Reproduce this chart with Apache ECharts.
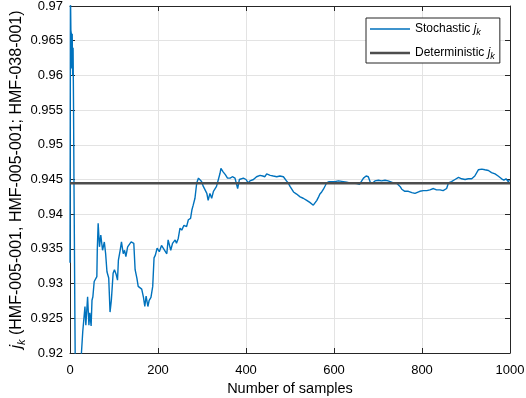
<!DOCTYPE html>
<html>
<head>
<meta charset="utf-8">
<script src="https://cdn.jsdelivr.net/npm/echarts@6/dist/echarts.min.js"></script>
<style>
html,body{margin:0;padding:0;background:#fff;}
#main{width:526px;height:398px;}
</style>
</head>
<body>
<div id="main"></div>
<script>
// ---- data ----
var sampleX = [0,1,2,3,4,5,6,7,8,9,10,11,12,14,18,22,25,26,29,34,36,40,43,45,48,50,52,55,58,61,62,64,67,70,74,78,81,84,88,91,94,98,101,105,108,110,114,117,121,124,127,131,135,139,142,145,148,152,155,159,163,167,170,173,177,180,184,188,191,194,198,203,208,212,220,223,229,233,239,242,246,250,254,259,265,269,274,277,280,284,288,292,295,299,303,307,311,314,318,322,326,330,333,337,341,343,348,353,358,364,369,375,379,381,385,394,400,405,409,417,424,432,438,443,447,455,462,470,477,485,492,496,500,504,508,515,523,530,538,545,553,557,561,565,568,572,576,580,583,589,595,602,610,614,621,629,636,644,652,658,663,667,673,678,682,683,688,693,701,708,716,723,727,735,742,750,754,761,769,777,784,788,795,803,811,818,826,833,841,848,852,856,860,867,875,883,890,898,905,913,920,928,936,943,951,958,966,973,981,986,991,996,999];
var stochasticJk = [0.933,0.972,0.9665,0.966,0.961,0.966,0.960,0.964,0.956,0.945,0.936,0.926,0.918,0.912,0.910,0.912,0.917,0.920,0.9231,0.9267,0.9240,0.9281,0.9240,0.9258,0.9239,0.9276,0.9281,0.9303,0.9305,0.9310,0.9348,0.9387,0.9353,0.9370,0.9348,0.9360,0.9343,0.9317,0.9308,0.9259,0.9276,0.9315,0.9320,0.9313,0.9305,0.9334,0.9348,0.9360,0.9343,0.9348,0.9339,0.9353,0.9355,0.9360,0.9358,0.9358,0.9320,0.9308,0.9296,0.9294,0.9292,0.9280,0.9267,0.9282,0.9267,0.9276,0.9280,0.9296,0.9337,0.9341,0.9351,0.9346,0.9355,0.9353,0.9343,0.9363,0.9348,0.9358,0.9363,0.9358,0.9365,0.9380,0.9377,0.9384,0.9382,0.9392,0.9394,0.9406,0.9413,0.9423,0.9445,0.9452,0.9450,0.9447,0.9440,0.9435,0.9430,0.9420,0.9430,0.9423,0.9433,0.9435,0.9440,0.9442,0.9459,0.9466,0.9461,0.9457,0.9452,0.9452,0.9454,0.9452,0.9450,0.9437,0.9450,0.9452,0.9450,0.9445,0.9448,0.9450,0.9454,0.9456,0.9455,0.9454,0.9458,0.9456,0.9455,0.9454,0.9455,0.9454,0.9448,0.9445,0.9440,0.9439,0.9432,0.9429,0.9425,0.9423,0.9420,0.9417,0.9413,0.9415,0.9420,0.9425,0.9429,0.9432,0.9436,0.9441,0.9445,0.9447,0.9447,0.9447,0.9448,0.9450,0.9447,0.9446,0.9445,0.9445,0.9444,0.9443,0.9448,0.9452,0.9455,0.9454,0.9453,0.9445,0.9445,0.9448,0.9449,0.9448,0.9449,0.9448,0.9447,0.9445,0.9445,0.9440,0.9436,0.9433,0.9433,0.9431,0.9430,0.9429,0.9433,0.9434,0.9434,0.9435,0.9437,0.9435,0.9435,0.9434,0.9433,0.9437,0.9445,0.9447,0.9450,0.9453,0.9451,0.9450,0.9451,0.9451,0.9455,0.9464,0.9465,0.9464,0.9463,0.9460,0.9458,0.9455,0.9451,0.9449,0.9451,0.9447,0.9449];
var deterministicX = [0, 1000];
var deterministicJk = [0.94445, 0.94445];
var seriesNames = ['Stochastic', 'Deterministic'];
var xTicks = [0, 200, 400, 600, 800, 1000];
var yTicks = [0.92, 0.925, 0.93, 0.935, 0.94, 0.945, 0.95, 0.955, 0.96, 0.965, 0.97];

function pairs(xs, ys){ return xs.map(function(x,i){ return [x, ys[i]]; }); }

var FONT = "'Liberation Sans', Arial, Helvetica, sans-serif";
var AX = '#262626';
var BLUE = '#0072BD';
var GRAY = '#4d4d4d';
var chart = echarts.init(document.getElementById('main'), null, {renderer:'canvas'});

// legend icons: 40x14 box with a horizontal bar in the middle
var thinIcon = 'path://M0,0L40,0L40,0.001L0,0.001ZM0,13.999L40,13.999L40,14L0,14ZM0,6.3L40,6.3L40,7.7L0,7.7Z';
var thickIcon = 'path://M0,0L40,0L40,0.001L0,0.001ZM0,13.999L40,13.999L40,14L0,14ZM0,5.75L40,5.75L40,8.25L0,8.25Z';

var baseTick = {show:true, inside:true, length:5, lineStyle:{color:AX, width:1}};
var option = {
  animation: false,
  backgroundColor: '#ffffff',
  textStyle: {fontFamily: FONT},
  grid: {left:70, right:16, top:6, bottom:45, containLabel:false, outerBoundsMode:'none'},
  legend: {
    orient: 'vertical',
    left: 366, top: 18,
    padding: [4, 5, 2, 4],
    itemGap: 9,
    itemWidth: 40, itemHeight: 14,
    borderColor: AX, borderWidth: 1,
    backgroundColor: '#ffffff',
    itemStyle: {borderWidth: 0},
    data: [{name: seriesNames[0], icon: thinIcon}, {name: seriesNames[1], icon: thickIcon}],
    formatter: function(n){ return '{t|' + n + ' }{i|j}{s|k}'; },
    textStyle: {
      color: '#000', fontFamily: FONT, fontSize: 12,
      rich: {
        t: {fontSize:12, fontFamily:FONT, color:'#000'},
        i: {fontSize:12, fontFamily:FONT, fontStyle:'italic', color:'#000'},
        s: {fontSize:9, fontFamily:FONT, fontStyle:'italic', color:'#000', padding:[7,0,0,0]}
      }
    }
  },
  xAxis: [{
    type:'value', min:0, max:1000, interval:200, position:'bottom',
    name:'Number of samples', nameLocation:'middle', nameGap:28, nameMoveOverlap:false,
    nameTextStyle:{fontSize:14.5, color:'#000', fontFamily:FONT},
    axisLine:{show:true, onZero:false, lineStyle:{color:AX, width:1}},
    axisTick: baseTick,
    axisLabel:{fontSize:13, color:'#000', margin:11, fontFamily:FONT,
      formatter:function(v){ return xTicks.indexOf(v) >= 0 ? String(v) : ''; }},
    splitLine:{show:true, lineStyle:{color:'#e3e3e3', width:1}}
  },{
    type:'value', min:0, max:1000, interval:200, position:'top',
    axisLine:{show:true, onZero:false, lineStyle:{color:AX, width:1}},
    axisTick: baseTick, axisLabel:{show:false}, splitLine:{show:false}
  }],
  yAxis: [{
    type:'value', min:0.92, max:0.97, interval:0.005, position:'left',
    name:'{i|j}{s|k}{t| (HMF-005-001, HMF-005-001; HMF-038-001)}',
    nameLocation:'middle', nameGap:43, nameRotate:90, nameMoveOverlap:false,
    nameTextStyle:{fontSize:16, color:'#000', fontFamily:FONT,
      rich:{
        t:{fontSize:16, fontFamily:FONT, color:'#000'},
        i:{fontSize:16, fontFamily:FONT, fontStyle:'italic', color:'#000'},
        s:{fontSize:11, fontFamily:FONT, fontStyle:'italic', color:'#000', padding:[9,0,0,0]}
      }},
    axisLine:{show:true, onZero:false, lineStyle:{color:AX, width:1}},
    axisTick: baseTick,
    axisLabel:{fontSize:13, color:'#000', margin:7, fontFamily:FONT,
      formatter:function(v){ var r = Math.round(v*1000)/1000; return String(r); }},
    splitLine:{show:true, lineStyle:{color:'#e3e3e3', width:1}}
  },{
    type:'value', min:0.92, max:0.97, interval:0.005, position:'right',
    axisLine:{show:true, onZero:false, lineStyle:{color:AX, width:1}},
    axisTick: baseTick, axisLabel:{show:false}, splitLine:{show:false}
  }],
  series: [{
    name: seriesNames[0], type:'line', xAxisIndex:0, yAxisIndex:0,
    data: pairs(sampleX, stochasticJk),
    symbol:'none', showSymbol:false, clip:true,
    lineStyle:{color:BLUE, width:1.4}, itemStyle:{color:BLUE}
  },{
    name: seriesNames[1], type:'line', xAxisIndex:0, yAxisIndex:0,
    data: pairs(deterministicX, deterministicJk),
    symbol:'none', showSymbol:false, clip:true,
    lineStyle:{color:GRAY, width:2.5}, itemStyle:{color:GRAY}
  }]
};
chart.setOption(option);
</script>
</body>
</html>
